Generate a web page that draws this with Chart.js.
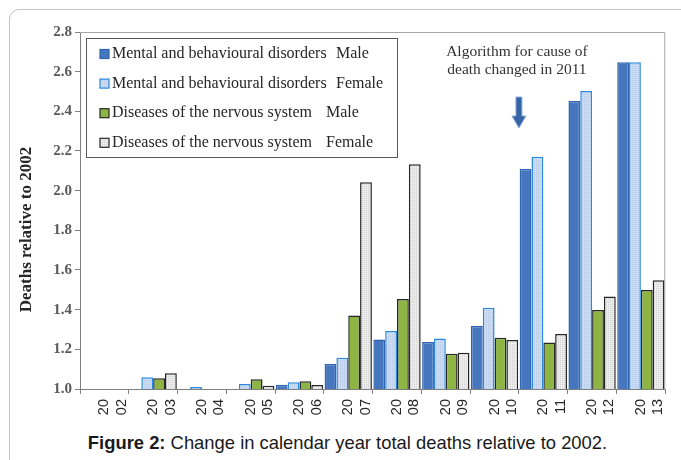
<!DOCTYPE html>
<html>
<head>
<meta charset="utf-8">
<script src="https://cdn.jsdelivr.net/npm/chart.js@4.4.1/dist/chart.umd.min.js"></script>
<style>
html, body { margin: 0; padding: 0; background: #fff; overflow: hidden; }
#frame { position: absolute; left: 9px; top: 9px; width: 720px; height: 520px; border: 1.5px solid #c4c4c4; border-radius: 10px; }
#wrap { position: absolute; left: 0; top: 0; width: 681px; height: 425px; }
#caption { position: absolute; left: 0; top: 432px; width: 695px; text-align: center; font: 18.4px "Liberation Sans", Arial, sans-serif; color: #1a1a1a; }
</style>
</head>
<body>
<div id="frame"></div>
<div id="wrap"><canvas id="myChart"></canvas></div>
<div id="caption"><b>Figure 2:</b> Change in calendar year total deaths relative to 2002.</div>
<script>
// values (relative to 2002)
const years = ['2002', '2003', '2004', '2005', '2006', '2007', '2008', '2009', '2010', '2011', '2012', '2013'];
const tickLabels = [['20', '02'], ['20', '03'], ['20', '04'], ['20', '05'], ['20', '06'], ['20', '07'],
                    ['20', '08'], ['20', '09'], ['20', '10'], ['20', '11'], ['20', '12'], ['20', '13']];
const causes = ['Mental and behavioural disorders', 'Mental and behavioural disorders',
                'Diseases of the nervous system', 'Diseases of the nervous system'];
const sexes = ['Male', 'Female', 'Male', 'Female'];

const mentalMale    = [1.00, 1.00, 1.00, 1.00, 1.022, 1.126, 1.250, 1.237, 1.318, 2.109, 2.452, 2.647];
const mentalFemale  = [1.00, 1.059, 1.010, 1.025, 1.034, 1.158, 1.292, 1.254, 1.410, 2.171, 2.503, 2.647];
const nervousMale   = [1.00, 1.054, 1.00, 1.049, 1.039, 1.370, 1.454, 1.178, 1.259, 1.235, 1.398, 1.499];
const nervousFemale = [1.00, 1.079, 1.00, 1.017, 1.020, 2.042, 2.133, 1.183, 1.247, 1.277, 1.467, 1.548];

const yTicks = [1.0, 1.2, 1.4, 1.6, 1.8, 2.0, 2.2, 2.4, 2.6, 2.8];
const noteLines = ['Algorithm for cause of', 'death changed in 2011'];
const yTitle = 'Deaths relative to 2002';

// fine stipple fill like the original
function dots(base, dot) {
    let c = document.createElement('canvas');
    c.width = 2; c.height = 2;
    let g = c.getContext('2d');
    g.fillStyle = base; g.fillRect(0, 0, 2, 2);
    g.fillStyle = dot; g.fillRect(0, 0, 1, 1);
    return g.createPattern(c, 'repeat');
}

const fills = ['#4677be', dots('#cddcf0', '#b3c9e7'), '#8eb443', dots('#ececec', '#d2d2d2')];
const borders = ['#2f65b0', '#2a88dd', '#262626', '#262626'];
const series = [mentalMale, mentalFemale, nervousMale, nervousFemale];

const serif = '"Liberation Serif", "Times New Roman", serif';

const overlay = {
    id: 'overlay',
    afterDraw(chart) {
        const { ctx, chartArea: a, scales } = chart;
        ctx.save();

        // plot frame top / right
        ctx.strokeStyle = '#a6a6a6';
        ctx.lineWidth = 1;
        ctx.beginPath();
        ctx.moveTo(a.left, a.top + 0.5);
        ctx.lineTo(a.right - 0.5, a.top + 0.5);
        ctx.lineTo(a.right - 0.5, a.bottom);
        ctx.stroke();

        // legend box inside the plot
        let lx = a.left + 6, ly = a.top + 6;
        ctx.fillStyle = '#fff';
        ctx.fillRect(lx, ly, 311, 119);
        ctx.strokeStyle = '#595959';
        ctx.strokeRect(lx + 0.5, ly + 0.5, 311, 119);
        ctx.font = '16px ' + serif;
        ctx.textBaseline = 'middle';
        ctx.textAlign = 'left';
        for (let i = 0; i < causes.length; i++) {
            let cy = ly + 16 + i * 29.6;
            ctx.fillStyle = fills[i];
            ctx.fillRect(lx + 14, cy - 4.5, 9, 9);
            ctx.strokeStyle = borders[i];
            ctx.lineWidth = 1.2;
            ctx.strokeRect(lx + 14, cy - 4.5, 9, 9);
            ctx.fillStyle = '#262626';
            ctx.fillText(causes[i], lx + 26, cy);
            ctx.fillText(sexes[i], lx + (i < 2 ? 250 : 240), cy);
        }

        // note and arrow between 2010 and 2011
        let xs = scales.x;
        let nx = (xs.getPixelForValue(8) + xs.getPixelForValue(9)) / 2;
        ctx.font = '15.5px ' + serif;
        ctx.textAlign = 'center';
        ctx.fillStyle = '#333';
        noteLines.forEach((t, i) => ctx.fillText(t, nx - 2, a.top + 20 + i * 17.5));

        ctx.beginPath();
        ctx.moveTo(nx - 3, a.top + 65);
        ctx.lineTo(nx + 3, a.top + 65);
        ctx.lineTo(nx + 3, a.top + 84);
        ctx.lineTo(nx + 7, a.top + 84);
        ctx.lineTo(nx, a.top + 96);
        ctx.lineTo(nx - 7, a.top + 84);
        ctx.lineTo(nx - 3, a.top + 84);
        ctx.closePath();
        ctx.fillStyle = '#3565a6';
        ctx.fill();
        ctx.strokeStyle = '#8fb0dc';
        ctx.lineWidth = 1;
        ctx.stroke();

        // y axis title
        ctx.translate(27, (a.top + a.bottom) / 2 + 19);
        ctx.rotate(-Math.PI / 2);
        ctx.font = 'bold 17px ' + serif;
        ctx.fillStyle = '#262626';
        ctx.textAlign = 'center';
        ctx.fillText(yTitle, 0, 0);
        ctx.restore();
    }
};

const ctx = document.getElementById('myChart');

new Chart(ctx, {
    type: 'bar',
    data: {
        labels: tickLabels,
        datasets: series.map((d, i) => ({
            label: causes[i] + ' ' + sexes[i],
            data: d,
            backgroundColor: fills[i],
            borderColor: borders[i],
            borderWidth: 1.5,
            inflateAmount: 0,
            categoryPercentage: 0.97,
            barPercentage: 1.0,
        }))
    },
    options: {
        responsive: true,
        maintainAspectRatio: false,
        animation: false,
        layout: { padding: { left: 0, top: 32, right: 8, bottom: 0 } },
        plugins: {
            legend: { display: false },
            tooltip: { enabled: false }
        },
        scales: {
            x: {
                afterFit: (s) => { s.height = 36; },
                grid: { drawOnChartArea: false, drawTicks: true, tickLength: 5, color: '#808080', offset: true },
                border: { color: '#808080' },
                ticks: {
                    autoSkip: false, minRotation: 90, maxRotation: 90, padding: 5,
                    color: '#262626',
                    font: { family: '"Liberation Sans", Arial, sans-serif', size: 14.5, lineHeight: 1.2 }
                }
            },
            y: {
                min: yTicks[0],
                max: yTicks[yTicks.length - 1],
                afterFit: (s) => { s.width = 80; },
                afterBuildTicks: (s) => { s.ticks = yTicks.map(v => ({ value: v })); },
                grid: { drawOnChartArea: false, drawTicks: true, tickLength: 5, color: '#808080' },
                border: { color: '#808080' },
                ticks: {
                    padding: 3,
                    color: '#595959',
                    font: { family: serif, size: 15, weight: 'bold' },
                    callback: (v) => Number(v).toFixed(1)
                }
            }
        }
    },
    plugins: [overlay]
});
</script>
</body>
</html>
